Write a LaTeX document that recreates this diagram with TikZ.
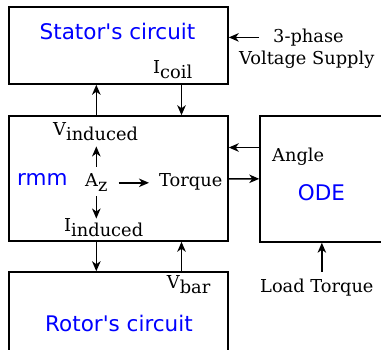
\documentclass[tikz,border=0pt]{standalone}
\usepackage{fontspec}
\setmainfont{DejaVu Serif}
\newfontfamily\blocksans{DejaVu Sans}
\usetikzlibrary{arrows.meta}
\newcommand{\lowsub}[1]{\raisebox{-5pt}{#1}}

\begin{document}
\begin{tikzpicture}[x=1pt, y=-1pt,
        box/.style={draw, line width=1.5pt, inner sep=0pt, minimum width=219pt},
        title/.style={text=blue, inner sep=0pt, font=\blocksans\fontsize{21.5}{26}\selectfont},
        lbl/.style={inner sep=0pt, font=\fontsize{17.8}{21}\selectfont},
        arrow/.style={-{Stealth[length=10pt, width=8.5pt, inset=3pt]}, line width=1.5pt}
    ]
        \useasboundingbox (0,0) rectangle (381,349);
        \clip (0,0) rectangle (381,349);

        % blocks
        \node[box, minimum height=77pt] (stator) at (118.5,45.5) {};
        \node[box, minimum height=125pt] (rmm) at (118.5,178.5) {};
        \node[box, minimum width=140pt, minimum height=126pt] (ode) at (330,179) {};
        \node[box, minimum height=98pt] (rotor) at (118.5,321) {};

        \node[title, anchor=base] (statortxt) at (117.5,39) {Stator's circuit};
        \node[title, anchor=base west] (rmmtxt) at (17,185.7) {rmm};
        \node[title, anchor=base] (odetxt) at (321.5,200) {ODE};
        \node[title, anchor=base] (rotortxt) at (119,331.7) {Rotor's circuit};

        % labels
        \node[lbl, anchor=base west] (icoil) at (153,73.3) {I\lowsub{coil}};
        \node[lbl, anchor=base west] (tp) at (273,42.3) {3-phase};
        \node[lbl, anchor=base west] (vs) at (239,64) {Voltage Supply};
        \node[lbl, anchor=base west] (vind) at (53,135) {V\lowsub{induced}};
        \node[lbl, anchor=base west] (az) at (85,186.8) {A\lowsub{z}};
        \node[lbl, anchor=base west] (torque) at (159,186.5) {Torque};
        \node[lbl, anchor=base west] (iind) at (64,231.7) {I\lowsub{induced}};
        \node[lbl, anchor=base west] (angle) at (272,161) {Angle};
        \node[lbl, anchor=base west] (vbar) at (166.7,288.3) {V\lowsub{bar}};
        \node[lbl, anchor=base west] (lt) at (260,292.3) {Load Torque};
        \coordinate (feed) at (181.5,0);

        \draw[arrow] ([xshift=-14pt]tp.west) -- (tp.west -| stator.east);
        \draw[arrow] (rmm.north -| az) -- (stator.south -| az);
        \draw[arrow] (stator.south -| feed) -- (rmm.north -| feed);
        \draw[arrow, shorten <=7pt, shorten >=6pt] (az.north) -- (az.north |- vind.south);
        \draw[arrow, shorten <=11pt, shorten >=10pt] (az.east) -- (az.east -| torque.west);
        \draw[arrow, shorten <=4pt] (az.south) -- (az.south |- iind.north);
        \draw[arrow] ([yshift=31.5pt]ode.west) -- ([yshift=31.5pt]ode.west -| rmm.east);
        \draw[arrow] (rmm) -- (ode);
        \draw[arrow] (rmm.south -| az) -- (rotor.north -| az);
        \draw[arrow] (rotor.north -| feed) -- (rmm.south -| feed);
        \draw[arrow, shorten <=7pt] ([xshift=5pt]lt.north) -- ([xshift=5pt]lt.north |- ode.south);
    \end{tikzpicture}
\end{document}
